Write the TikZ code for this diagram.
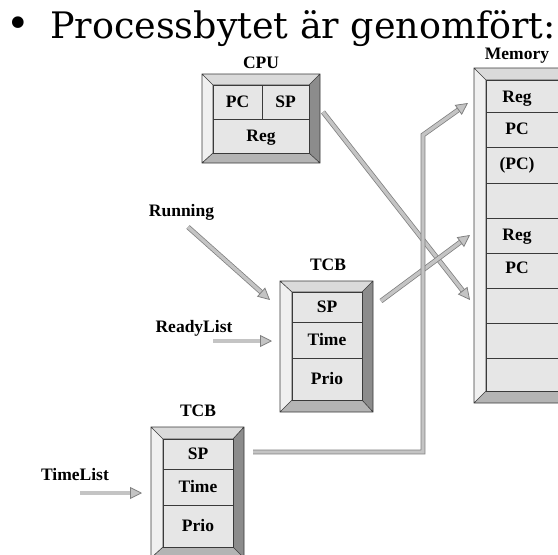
\documentclass[tikz,border=0pt]{standalone}
\usepackage{fontspec}
\setmainfont{Liberation Serif}
\newfontfamily\titlefont{DejaVu Serif}
\usetikzlibrary{arrows.meta}
\definecolor{bvL}{HTML}{F0F0F0}
\definecolor{bvT}{HTML}{DADADA}
\definecolor{bvR}{HTML}{8C8C8C}
\definecolor{bvB}{HTML}{B4B4B4}
\definecolor{cellc}{HTML}{E6E6E6}
\definecolor{edgec}{HTML}{3A3A3A}
\definecolor{arrfill}{HTML}{C4C4C4}
\definecolor{arredge}{HTML}{7E7E7E}
\tikzset{
  edge/.style={draw=edgec, line width=0.6pt},
  cell/.style={edge, fill=cellc, inner sep=0pt, outer sep=0pt, text height=11.5pt, text depth=0pt,
    font=\bfseries\fontsize{17.5}{17.5}\selectfont},
  lbl/.style={inner sep=0pt, anchor=base, font=\bfseries\fontsize{17.5}{17.5}\selectfont},
  garrow/.style={draw=arredge, double=arrfill, double distance=3.4pt, line width=0.75pt,
    line join=miter, -{Triangle[length=12pt,width=12pt,fill=arrfill,line width=0.75pt]}}
}
% bevel frame: outer x1 y1 x2 y2, inner x1 y1 x2 y2
\newcommand{\bevelframe}[8]{%
  \fill[bvT] (#1,#2) -- (#3,#2) -- (#7,#6) -- (#5,#6) -- cycle;
  \fill[bvL] (#1,#2) -- (#5,#6) -- (#5,#8) -- (#1,#4) -- cycle;
  \fill[bvR] (#3,#2) -- (#3,#4) -- (#7,#8) -- (#7,#6) -- cycle;
  \fill[bvB] (#1,#4) -- (#5,#8) -- (#7,#8) -- (#3,#4) -- cycle;
  \draw[edge] (#1,#2) rectangle (#3,#4) (#5,#6) rectangle (#7,#8)
    (#1,#2) -- (#5,#6) (#3,#2) -- (#7,#6) (#1,#4) -- (#5,#8) (#3,#4) -- (#7,#8);
}
% cell node: name, x1, y1, x2, y2, text
\newcommand{\cellnode}[6]{%
  \node[cell, minimum width={#4-#2}, minimum height={#5-#3}] (#1) at ({(#2+#4)/2},{(#3+#5)/2}) {#6};
}
\begin{document}
\begin{tikzpicture}[x=1pt,y=-1pt]
\clip (0,0) rectangle (558,555);
\fill[white] (0,0) rectangle (558,555);

% title
\node[inner sep=0pt, anchor=base, font=\titlefont\fontsize{40}{40}\selectfont] (bullet) at (18,37) {•};
\node[inner sep=0pt, anchor=base west, font=\titlefont\fontsize{36.5}{36.5}\selectfont] (title) at (50,38)
  {Processbytet är genomfört:};

% CPU
\node[lbl] (cpulbl) at (261,68) {CPU};
\bevelframe{202}{74}{320}{163}{213}{85}{309}{153}
\cellnode{cpupc}{213}{85}{262}{119}{PC}
\cellnode{cpusp}{262}{85}{309}{119}{SP}
\cellnode{cpureg}{213}{119}{309}{153}{Reg}

% Memory
\node[lbl] (memlbl) at (517,59) {Memory};
\bevelframe{474}{68}{570}{403}{486}{80}{558}{391}
\cellnode{m1}{486}{80}{558}{112}{}
\cellnode{m2}{486}{112}{558}{147}{}
\cellnode{m3}{486}{147}{558}{183}{}
\cellnode{m4}{486}{183}{558}{218}{}
\cellnode{m5}{486}{218}{558}{253}{}
\cellnode{m6}{486}{253}{558}{288}{}
\cellnode{m7}{486}{288}{558}{323}{}
\cellnode{m8}{486}{323}{558}{358}{}
\cellnode{m9}{486}{358}{558}{391}{}
\node[cell, draw=none, fill=none] (m1t) at (517,97) {Reg};
\node[cell, draw=none, fill=none] (m2t) at (517,129) {PC};
\node[cell, draw=none, fill=none] (m3t) at (517,164) {(PC)};
\node[cell, draw=none, fill=none] (m5t) at (517,235) {Reg};
\node[cell, draw=none, fill=none] (m6t) at (517,268) {PC};

% TCB 1
\node[lbl] (tcbalbl) at (328,270) {TCB};
\bevelframe{280}{281}{373}{412}{292}{292}{362}{400}
\cellnode{tcbasp}{292}{292}{362}{322}{SP}
\cellnode{tcbatime}{292}{322}{362}{358}{Time}
\cellnode{tcbaprio}{292}{358}{362}{400}{Prio}

% TCB 2
\node[lbl] (tcbblbl) at (198,416) {TCB};
\bevelframe{151}{427}{244}{558}{163}{439}{233}{547}
\cellnode{tcbbsp}{163}{439}{233}{469}{SP}
\cellnode{tcbbtime}{163}{469}{233}{505}{Time}
\cellnode{tcbbprio}{163}{505}{233}{547}{Prio}

% side labels
\node[lbl] (running) at (181.5,216) {Running};
\node[lbl] (ready) at (194,332) {ReadyList};
\node[lbl] (timel) at (75,480) {TimeList};

% arrow end points
\coordinate (cpuout) at (323,112);
\coordinate (memin3) at (470,300);
\coordinate (runs) at (188,227);
\coordinate (tcbain1) at (270,300);
\coordinate (rdys) at (213,341);
\coordinate (tcbain2) at (272,341);
\coordinate (tls) at (80,493);
\coordinate (tcbbin) at (142,493);
\coordinate (tcbaout) at (381,301);
\coordinate (memin2) at (470,235);
\coordinate (tcbbout) at (253,452);
\coordinate (bend) at (423,135);
\coordinate (memin1) at (468,103);

\draw[garrow] (cpuout) -- (memin3);
\draw[garrow] (runs) -- (tcbain1);
\draw[garrow] (rdys) -- (tcbain2);
\draw[garrow] (tls) -- (tcbbin);
\draw[garrow] (tcbaout) -- (memin2);
\draw[garrow] (tcbbout) -| (bend) -- (memin1);
\end{tikzpicture}
\end{document}
